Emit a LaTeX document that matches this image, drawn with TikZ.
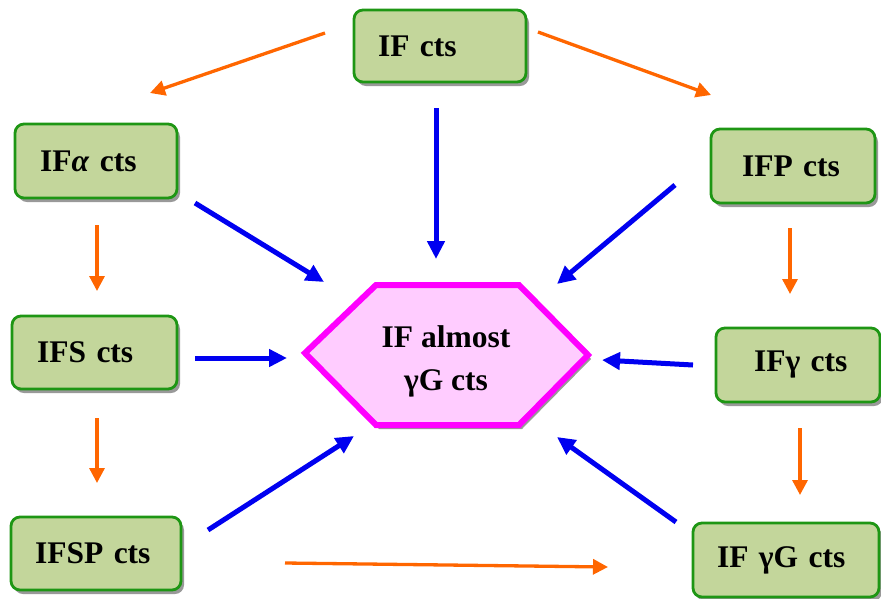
\documentclass[tikz,border=0pt]{standalone}
\usepackage{fontspec}
\setmainfont{Liberation Serif}
\usetikzlibrary{arrows.meta,shadows}
\definecolor{boxfill}{RGB}{195,214,155}
\definecolor{boxline}{RGB}{30,150,20}
\definecolor{arrorange}{RGB}{255,102,0}
\definecolor{arrblue}{RGB}{0,0,240}
\definecolor{hexline}{RGB}{255,0,255}
\definecolor{hexfill}{RGB}{255,204,255}
\begin{document}
\begin{tikzpicture}[x=1pt,y=-1pt,
  gbox/.style={draw=boxline, line width=2.8pt, fill=boxfill, rounded corners=9pt,
    drop shadow={shadow xshift=3pt, shadow yshift=-4pt, fill=black!40, opacity=1},
    font=\fontsize{31.5}{36}\selectfont\bfseries, align=left, inner ysep=0pt},
  hexshape/.style={draw=hexline, line width=6pt, fill=hexfill, line join=miter,
    drop shadow={shadow xshift=3pt, shadow yshift=-4pt, fill=black!40, opacity=1}},
  hextext/.style={font=\fontsize{31.5}{43}\selectfont\bfseries, align=center, inner sep=0pt},
  oarr/.style={draw=arrorange, line width=3.3pt, -{Triangle[length=15pt,width=15pt]}},
  barr/.style={draw=arrblue, line width=5pt, -{Triangle[length=18pt,width=17pt]}}
]
\useasboundingbox (0,0) rectangle (881,598);

% boxes
\node[gbox, minimum height=72pt, inner xsep=24pt, text width=124pt] (ifc)  at (440,46)    {\mbox{IF cts}};
\node[gbox, minimum height=74pt, inner xsep=25pt, text width=112pt] (ifa)  at (96,161)    {\mbox{IF\textit{α} cts}};
\node[gbox, minimum height=74pt, inner xsep=31pt, text width=102pt] (ifp)  at (793,166)   {\mbox{IFP cts}};
\node[gbox, minimum height=73pt, inner xsep=25pt, text width=115pt] (ifs)  at (94.5,352.5) {\mbox{IFS cts}};
\node[gbox, minimum height=74pt, inner xsep=38pt, text width=88pt]  (ifg)  at (798,365)   {\mbox{IFγ cts}};
\node[gbox, minimum height=73pt, inner xsep=24pt, text width=122pt] (ifsp) at (96,553.5)  {\mbox{IFSP cts}};
\node[gbox, minimum height=74pt, inner xsep=24pt, text width=138pt] (ifgg) at (786,560)   {\mbox{IF γG cts}};

% hexagon
\draw[hexshape] (305,353) -- (376,285) -- (519,285) -- (588,355) -- (519,425) -- (376,425) -- cycle;
\node[hextext] (hex) at (446,361) {IF almost\\γG cts};

% arrow end points
\coordinate (o1s) at (325,33);  \coordinate (o1e) at (150,93);
\coordinate (o2s) at (538,32);  \coordinate (o2e) at (711,95);
\coordinate (o3s) at (97,225);  \coordinate (o3e) at (97,291);
\coordinate (o4s) at (790,228); \coordinate (o4e) at (790,294);
\coordinate (o5s) at (97,418);  \coordinate (o5e) at (97,483);
\coordinate (o6s) at (800,428); \coordinate (o6e) at (800,495);
\coordinate (o7s) at (285,563); \coordinate (o7e) at (608,567);

\coordinate (b1s) at (436,108); \coordinate (b1e) at (436,259);
\coordinate (b2s) at (195,203); \coordinate (b2e) at (324,282);
\coordinate (b3s) at (675,185); \coordinate (b3e) at (557,284);
\coordinate (b4s) at (195,358); \coordinate (b4e) at (287,358);
\coordinate (b5s) at (693,365); \coordinate (b5e) at (602,360);
\coordinate (b6s) at (208,530); \coordinate (b6e) at (354,436);
\coordinate (b7s) at (676,522); \coordinate (b7e) at (557,437);

\foreach \i in {1,...,7} { \draw[oarr] (o\i s) -- (o\i e); }
\foreach \i in {1,...,7} { \draw[barr] (b\i s) -- (b\i e); }
\end{tikzpicture}
\end{document}
